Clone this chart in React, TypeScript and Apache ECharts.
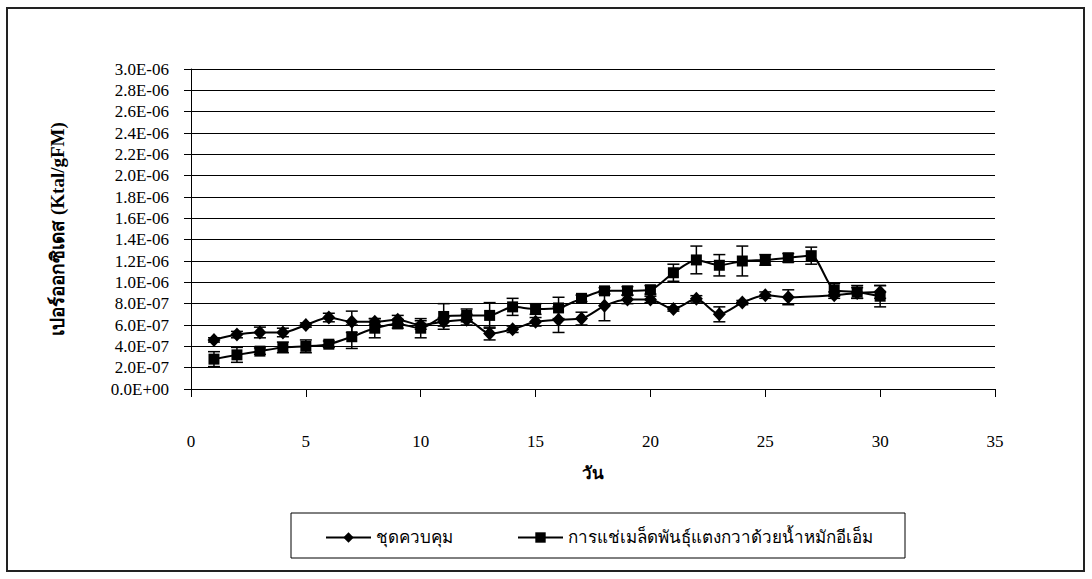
import React, { useEffect, useRef } from "react";
import * as echarts from "echarts";

const days = [1, 2, 3, 4, 5, 6, 7, 8, 9, 10, 11, 12, 13, 14, 15, 16, 17, 18, 19, 20, 21, 22, 23, 24, 25, 26, 27, 28, 29, 30];

// values in units of 1E-06 Ktal/gFM
const controlVals = [0.46, 0.51, 0.53, 0.53, 0.60, 0.67, 0.63, 0.63, 0.65, 0.60, 0.63, 0.65, 0.52, 0.56, 0.63, 0.65, 0.66, 0.78, 0.84, 0.84, 0.75, 0.845, 0.70, 0.81, 0.88, 0.86, null, 0.88, 0.90, 0.91];
const controlErr = [0.02, 0.03, 0.05, 0.04, 0.02, 0.04, 0.10, 0.03, 0.04, 0.04, 0.04, 0.05, 0.06, 0.03, 0.04, 0.12, 0.06, 0.14, 0.04, 0.03, 0.02, 0.03, 0.07, 0.02, 0.03, 0.07, null, 0.03, 0.05, 0.06];
const treatVals = [0.28, 0.32, 0.355, 0.39, 0.40, 0.42, 0.49, 0.57, 0.61, 0.57, 0.68, 0.69, 0.69, 0.77, 0.75, 0.76, 0.85, 0.92, 0.92, 0.93, 1.09, 1.21, 1.16, 1.20, 1.21, 1.23, 1.25, 0.93, 0.91, 0.87];
const treatErr = [0.07, 0.07, 0.03, 0.05, 0.06, 0.03, 0.11, 0.09, 0.04, 0.09, 0.12, 0.06, 0.12, 0.08, 0.05, 0.10, 0.03, 0.03, 0.04, 0.04, 0.08, 0.13, 0.10, 0.14, 0.05, 0.04, 0.08, 0.06, 0.06, 0.10];

const seriesNames = ["ชุดควบคุม", "การแช่เมล็ดพันธุ์แตงกวาด้วยน้ำหมักอีเอ็ม"];
const xAxisTitle = "วัน";
const yAxisTitle = "เปอร์ออกซิเดส (Ktal/gFM)";
const UNIT = 1e-6;

const FONT = "Liberation Serif, DejaVu Serif, serif";

function fmt(v: number): string {
  if (Math.abs(v) < 1e-15) return "0.0E+00";
  const [m, e] = v.toExponential(1).split("e");
  const n = parseInt(e, 10);
  return m + "E" + (n < 0 ? "-" : "+") + String(Math.abs(n)).padStart(2, "0");
}

function pts(vals: (number | null)[]) {
  return days.map((d, i) => [d, vals[i] == null ? null : (vals[i] as number) * UNIT]);
}
function errs(vals: (number | null)[], e: (number | null)[]) {
  const out: number[][] = [];
  days.forEach((d, i) => {
    const v = vals[i];
    const er = e[i];
    if (v != null && er != null) out.push([d, (v - er) * UNIT, (v + er) * UNIT]);
  });
  return out;
}

const errRender = (params: any, api: any) => {
  const x = api.value(0);
  const lo = api.coord([x, api.value(1)]);
  const hi = api.coord([x, api.value(2)]);
  const w = 6;
  const st = { stroke: "#000", lineWidth: 1.5 };
  return {
    type: "group",
    children: [
      { type: "line", shape: { x1: lo[0], y1: lo[1], x2: hi[0], y2: hi[1] }, style: st },
      { type: "line", shape: { x1: lo[0] - w, y1: lo[1], x2: lo[0] + w, y2: lo[1] }, style: st },
      { type: "line", shape: { x1: hi[0] - w, y1: hi[1], x2: hi[0] + w, y2: hi[1] }, style: st },
    ],
  };
};

export default function App() {
  const ref = useRef<HTMLDivElement>(null);
  useEffect(() => {
    if (!ref.current) return;
    const chart = echarts.init(ref.current, null, { renderer: "svg" });
    chart.setOption({
      animation: false,
      backgroundColor: "#fff",
      textStyle: { fontFamily: FONT },
      grid: { left: 191, right: 97, top: 69, bottom: 190 },
      graphic: [
        { type: "rect", shape: { x: 7, y: 8, width: 1077, height: 563 }, style: { fill: "none", stroke: "#222", lineWidth: 2 }, z: 0 },
        { type: "rect", shape: { x: 291, y: 513, width: 614, height: 45 }, style: { fill: "#fff", stroke: "#000", lineWidth: 1 }, z: 1 },
      ],
      legend: {
        data: seriesNames,
        left: 320,
        top: 524,
        itemWidth: 45,
        itemHeight: 13,
        itemGap: 64,
        textStyle: { fontFamily: FONT, fontSize: 17, color: "#000" },
        z: 5,
      },
      xAxis: {
        type: "value",
        min: 0,
        max: 35,
        interval: 5,
        name: xAxisTitle,
        nameLocation: "middle",
        nameGap: 76,
        nameTextStyle: { fontFamily: FONT, fontSize: 17, fontWeight: "bold", color: "#000" },
        axisLine: { show: true, onZero: false, lineStyle: { color: "#000", width: 1 } },
        axisTick: { show: true, length: 8, lineStyle: { color: "#000" } },
        axisLabel: { margin: 44, fontFamily: FONT, fontSize: 17, color: "#000" },
        splitLine: { show: false },
      },
      yAxis: {
        type: "value",
        min: 0,
        max: 3e-6,
        interval: 2e-7,
        name: yAxisTitle,
        nameLocation: "middle",
        nameRotate: 90,
        nameGap: 124,
        nameTextStyle: { fontFamily: FONT, fontSize: 19, fontWeight: "bold", color: "#000" },
        axisLine: { show: true, lineStyle: { color: "#000", width: 1 } },
        axisTick: { show: true, length: 7, lineStyle: { color: "#000" } },
        axisLabel: { margin: 22, fontFamily: FONT, fontSize: 17, color: "#000", formatter: (v: number) => fmt(v) },
        splitLine: { show: true, lineStyle: { color: "#000", width: 1 } },
      },
      series: [
        {
          name: seriesNames[0],
          type: "line",
          data: pts(controlVals),
          connectNulls: true,
          smooth: 0.25,
          symbol: "diamond",
          symbolSize: [13, 14],
          lineStyle: { color: "#000", width: 2 },
          itemStyle: { color: "#000" },
          z: 3,
        },
        {
          name: seriesNames[1],
          type: "line",
          data: pts(treatVals),
          smooth: 0.25,
          symbol: "rect",
          symbolSize: 11,
          lineStyle: { color: "#000", width: 2 },
          itemStyle: { color: "#000" },
          z: 3,
        },
        {
          type: "custom",
          renderItem: errRender,
          data: errs(controlVals, controlErr),
          encode: { x: 0, y: [1, 2] },
          z: 4,
          silent: true,
        },
        {
          type: "custom",
          renderItem: errRender,
          data: errs(treatVals, treatErr),
          encode: { x: 0, y: [1, 2] },
          z: 4,
          silent: true,
        },
      ],
    });
    return () => chart.dispose();
  }, []);
  return <div ref={ref} style={{ position: "fixed", left: 0, top: 0, width: 1092, height: 579 }} />;
}
